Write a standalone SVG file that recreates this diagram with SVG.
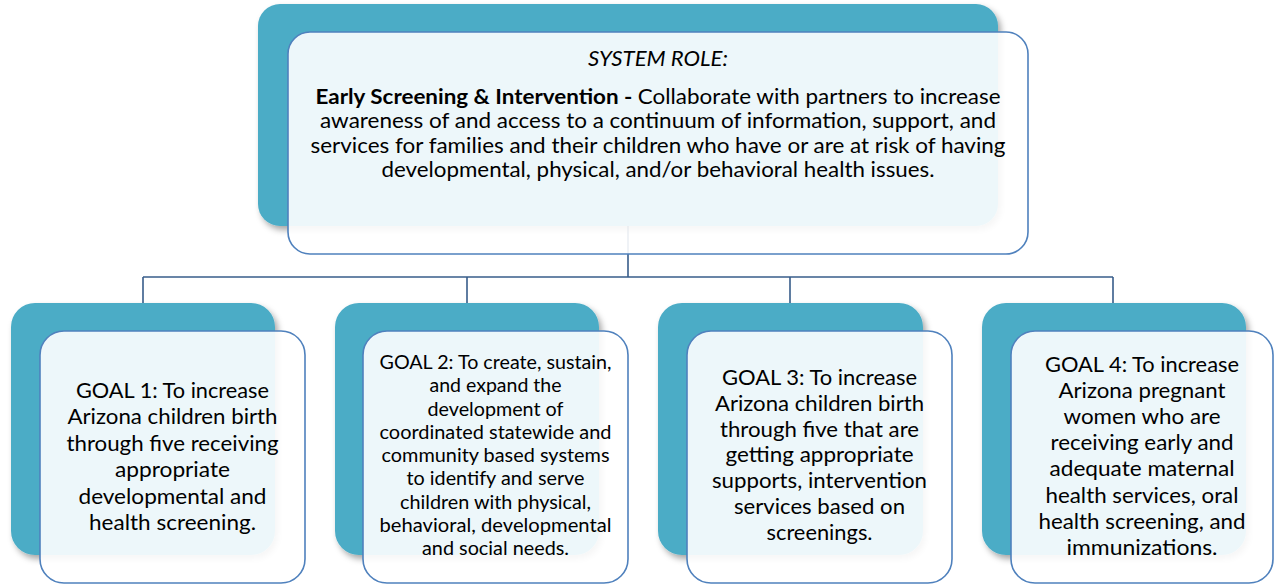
<svg xmlns="http://www.w3.org/2000/svg" width="1274" height="585" viewBox="0 0 1274 585">
<defs>
<filter id="sh" x="-10%" y="-10%" width="125%" height="125%">
<feDropShadow dx="3" dy="4" stdDeviation="3" flood-color="#000" flood-opacity="0.35"/>
</filter>
<style>
.back{fill:#4bacc6;filter:url(#sh)}
.front{fill:#ffffff;fill-opacity:0.9;stroke:#4f81bd;stroke-width:1.6}
.conn{fill:none;stroke:#385d8a;stroke-width:1.6}
text{font-family:Lato,"Liberation Sans",sans-serif;fill:#000;text-anchor:middle}
.t{font-size:20.5px}
.g{font-size:21px}
.g2{font-size:18.5px}
</style>
</defs>
<rect width="1274" height="585" fill="#fff"/>
<g id="connectors">
<path class="conn" d="M628 226V277M143 277H1113M143 277V303M467 277V303M790 277V303M1113 277V303"/>
</g>
<g id="system-role">
<rect class="back" x="258" y="4" width="740" height="222" rx="22"/>
<rect class="front" x="288" y="32" width="740" height="222" rx="22"/>
<text class="t" x="658" y="66" font-style="italic" textLength="140" lengthAdjust="spacingAndGlyphs">SYSTEM ROLE:</text>
<text class="t" x="658" y="103.5" textLength="685" lengthAdjust="spacingAndGlyphs"><tspan font-weight="bold">Early Screening &amp; Intervention - </tspan>Collaborate with partners to increase</text>
<text class="t" x="658" y="128" textLength="676" lengthAdjust="spacingAndGlyphs">awareness of and access to a continuum of information, support, and</text>
<text class="t" x="658" y="152.5" textLength="695" lengthAdjust="spacingAndGlyphs">services for families and their children who have or are at risk of having</text>
<text class="t" x="658" y="177" textLength="553" lengthAdjust="spacingAndGlyphs">developmental, physical, and/or behavioral health issues.</text>
</g>
<g id="goal1">
<rect class="back" x="11" y="303" width="264" height="252" rx="24"/>
<rect class="front" x="40" y="331" width="265" height="252" rx="24"/>
<text class="g" x="172.5" y="398" textLength="193" lengthAdjust="spacingAndGlyphs">GOAL 1: To increase</text>
<text class="g" x="172.5" y="424.4" textLength="210" lengthAdjust="spacingAndGlyphs">Arizona children birth</text>
<text class="g" x="172.5" y="450.8" textLength="212" lengthAdjust="spacingAndGlyphs">through five receiving</text>
<text class="g" x="172.5" y="477.2" textLength="115" lengthAdjust="spacingAndGlyphs">appropriate</text>
<text class="g" x="172.5" y="503.6" textLength="188" lengthAdjust="spacingAndGlyphs">developmental and</text>
<text class="g" x="172.5" y="530" textLength="167" lengthAdjust="spacingAndGlyphs">health screening.</text>
</g>
<g id="goal2">
<rect class="back" x="335" y="303" width="264" height="252" rx="24"/>
<rect class="front" x="363" y="331" width="265" height="252" rx="24"/>
<text class="g2" x="495.5" y="369" textLength="232" lengthAdjust="spacingAndGlyphs">GOAL 2: To create, sustain,</text>
<text class="g2" x="495.5" y="392.25" textLength="132" lengthAdjust="spacingAndGlyphs">and expand the</text>
<text class="g2" x="495.5" y="415.5" textLength="136" lengthAdjust="spacingAndGlyphs">development of</text>
<text class="g2" x="495.5" y="438.75" textLength="232" lengthAdjust="spacingAndGlyphs">coordinated statewide and</text>
<text class="g2" x="495.5" y="462" textLength="228" lengthAdjust="spacingAndGlyphs">community based systems</text>
<text class="g2" x="495.5" y="485.25" textLength="178" lengthAdjust="spacingAndGlyphs">to identify and serve</text>
<text class="g2" x="495.5" y="508.5" textLength="191" lengthAdjust="spacingAndGlyphs">children with physical,</text>
<text class="g2" x="495.5" y="531.75" textLength="232" lengthAdjust="spacingAndGlyphs">behavioral, developmental</text>
<text class="g2" x="495.5" y="555" textLength="147" lengthAdjust="spacingAndGlyphs">and social needs.</text>
</g>
<g id="goal3">
<rect class="back" x="658" y="303" width="265" height="252" rx="24"/>
<rect class="front" x="687" y="331" width="265" height="252" rx="24"/>
<text class="g" x="819.5" y="385" textLength="195" lengthAdjust="spacingAndGlyphs">GOAL 3: To increase</text>
<text class="g" x="819.5" y="410.8" textLength="209" lengthAdjust="spacingAndGlyphs">Arizona children birth</text>
<text class="g" x="819.5" y="436.6" textLength="199" lengthAdjust="spacingAndGlyphs">through five that are</text>
<text class="g" x="819.5" y="462.4" textLength="188" lengthAdjust="spacingAndGlyphs">getting appropriate</text>
<text class="g" x="819.5" y="488.2" textLength="215" lengthAdjust="spacingAndGlyphs">supports, intervention</text>
<text class="g" x="819.5" y="514" textLength="171" lengthAdjust="spacingAndGlyphs">services based on</text>
<text class="g" x="819.5" y="539.8" textLength="106" lengthAdjust="spacingAndGlyphs">screenings.</text>
</g>
<g id="goal4">
<rect class="back" x="982" y="303" width="264" height="252" rx="24"/>
<rect class="front" x="1011" y="331" width="262" height="252" rx="24"/>
<text class="g" x="1142" y="372" textLength="194" lengthAdjust="spacingAndGlyphs">GOAL 4: To increase</text>
<text class="g" x="1142" y="398.1" textLength="167" lengthAdjust="spacingAndGlyphs">Arizona pregnant</text>
<text class="g" x="1142" y="424.2" textLength="157" lengthAdjust="spacingAndGlyphs">women who are</text>
<text class="g" x="1142" y="450.3" textLength="183" lengthAdjust="spacingAndGlyphs">receiving early and</text>
<text class="g" x="1142" y="476.4" textLength="185" lengthAdjust="spacingAndGlyphs">adequate maternal</text>
<text class="g" x="1142" y="502.5" textLength="193" lengthAdjust="spacingAndGlyphs">health services, oral</text>
<text class="g" x="1142" y="528.6" textLength="207" lengthAdjust="spacingAndGlyphs">health screening, and</text>
<text class="g" x="1142" y="554.7" textLength="151" lengthAdjust="spacingAndGlyphs">immunizations.</text>
</g>
</svg>
